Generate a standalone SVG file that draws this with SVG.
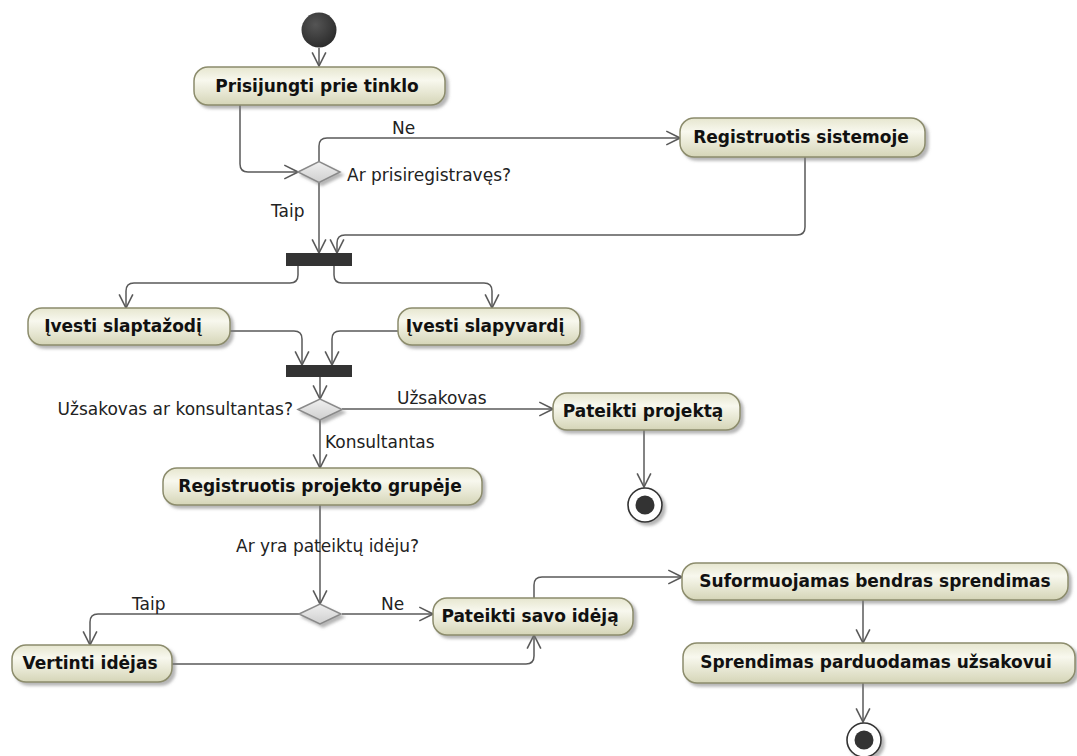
<svg xmlns="http://www.w3.org/2000/svg" width="1077" height="756" viewBox="0 0 1077 756">
<defs>
  <linearGradient id="nodeFill" x1="0" y1="0" x2="0" y2="1">
    <stop offset="0" stop-color="#e6e6cf"/>
    <stop offset="0.35" stop-color="#f8f8ee"/>
    <stop offset="1" stop-color="#d5d5b7"/>
  </linearGradient>
  <linearGradient id="diamondFill" x1="0" y1="0" x2="0" y2="1">
    <stop offset="0" stop-color="#f0f0f0"/>
    <stop offset="1" stop-color="#cfcfcf"/>
  </linearGradient>
  <radialGradient id="startFill" cx="0.4" cy="0.35" r="0.7">
    <stop offset="0" stop-color="#555555"/>
    <stop offset="1" stop-color="#2a2a2a"/>
  </radialGradient>
  <filter id="shadow" x="-10%" y="-20%" width="130%" height="160%">
    <feDropShadow dx="3" dy="3" stdDeviation="1.5" flood-color="#7a7a7a" flood-opacity="0.55"/>
  </filter>
  <marker id="arrow" markerUnits="userSpaceOnUse" markerWidth="16" markerHeight="16" viewBox="0 0 14 14" refX="13" refY="7" orient="auto">
    <path d="M1,1 L13,7 L1,13" fill="none" stroke="#5a5a5a" stroke-width="1.4"/>
  </marker>
</defs>
<style>
  .node rect { fill: url(#nodeFill); stroke: #8c8c6c; stroke-width: 1.5; filter: url(#shadow); }
  .node text { font-family: "DejaVu Sans", "Noto Sans", sans-serif; font-weight: bold; font-size: 17px; fill: #111111; text-anchor: middle; }
  .decision polygon { fill: url(#diamondFill); stroke: #8a8a8a; stroke-width: 1.5; filter: url(#shadow); }
  .bar rect { fill: #333333; }
  .conn path { fill: none; stroke: #5a5a5a; stroke-width: 1.5; marker-end: url(#arrow); }
  .lbl { font-family: "DejaVu Sans", "Noto Sans", sans-serif; font-size: 17px; fill: #222222; }
</style>
<rect width="1077" height="756" fill="#ffffff"/>

<g id="connectors" class="conn">
  <path d="M319,48 L319,66"/>
  <path d="M240,105 L240,164 Q240,172 248,172 L298,172"/>
  <path d="M319,162 L319,146 Q319,138 327,138 L680,138"/>
  <path d="M319,183 L319,253"/>
  <path d="M805,157 L805,227 Q805,235 797,235 L345,235 Q337,235 337,243 L337,253"/>
  <path d="M298,266 L298,275 Q298,283 290,283 L134,283 Q126,283 126,291 L126,308"/>
  <path d="M334,266 L334,275 Q334,283 342,283 L484,283 Q492,283 492,291 L492,308"/>
  <path d="M230,331 L294,331 Q302,331 302,339 L302,365"/>
  <path d="M398,331 L340,331 Q332,331 332,339 L332,365"/>
  <path d="M320,377 L320,399"/>
  <path d="M342,409 L553,409"/>
  <path d="M320,420 L320,468"/>
  <path d="M644,430 L644,487"/>
  <path d="M320,505 L320,604"/>
  <path d="M299,614 L98,614 Q90,614 90,622 L90,645"/>
  <path d="M342,614 L433,614"/>
  <path d="M172,664 L526,664 Q534,664 534,656 L534,635"/>
  <path d="M534,598 L534,585 Q534,577 542,577 L682,577"/>
  <path d="M863,600 L863,643"/>
  <path d="M863,683 L863,722"/>
</g>

<g id="edge-labels">
  <text class="lbl" x="392" y="134">Ne</text>
  <text class="lbl" x="347" y="181">Ar prisiregistravęs?</text>
  <text class="lbl" x="271" y="217">Taip</text>
  <text class="lbl" x="293" y="415" text-anchor="end">Užsakovas ar konsultantas?</text>
  <text class="lbl" x="397" y="404">Užsakovas</text>
  <text class="lbl" x="325" y="448">Konsultantas</text>
  <text class="lbl" x="236" y="552">Ar yra pateiktų idėju?</text>
  <text class="lbl" x="132" y="610">Taip</text>
  <text class="lbl" x="381" y="610">Ne</text>
</g>

<g id="start">
  <circle cx="319" cy="30" r="17.5" fill="url(#startFill)"/>
</g>

<g id="n-prisijungti" class="node">
  <rect x="194" y="67" width="251" height="38" rx="14"/>
  <text x="317" y="92">Prisijungti prie tinklo</text>
</g>

<g id="d-registravesi" class="decision">
  <polygon points="298,172 319,161.5 340,172 319,182.5"/>
</g>

<g id="n-registruotis-sistemoje" class="node">
  <rect x="680" y="118" width="245" height="39" rx="14"/>
  <text x="801" y="143">Registruotis sistemoje</text>
</g>

<g id="fork1" class="bar">
  <rect x="286" y="253" width="66" height="13"/>
</g>

<g id="n-slaptazodi" class="node">
  <rect x="28" y="308" width="202" height="37" rx="14"/>
  <text x="123" y="332">Įvesti slaptažodį</text>
</g>

<g id="n-slapyvardi" class="node">
  <rect x="398" y="308" width="182" height="37" rx="14"/>
  <text x="485" y="332">Įvesti slapyvardį</text>
</g>

<g id="join1" class="bar">
  <rect x="286" y="365" width="66" height="12"/>
</g>

<g id="d-uzsakovas" class="decision">
  <polygon points="298,409.5 320,399 342,409.5 320,420"/>
</g>

<g id="n-pateikti-projekta" class="node">
  <rect x="553" y="393" width="187" height="37" rx="14"/>
  <text x="643" y="417">Pateikti projektą</text>
</g>

<g id="final1">
  <circle cx="645" cy="505" r="17" fill="#ffffff" stroke="#333333" stroke-width="1.6" filter="url(#shadow)"/>
  <circle cx="645" cy="505" r="9.5" fill="#333333"/>
</g>

<g id="n-registruotis-grupeje" class="node">
  <rect x="163" y="468" width="319" height="37" rx="14"/>
  <text x="320" y="492">Registruotis projekto grupėje</text>
</g>

<g id="d-idejos" class="decision">
  <polygon points="299,614 320,604 341,614 320,624"/>
</g>

<g id="n-vertinti" class="node">
  <rect x="12" y="645" width="160" height="37" rx="14"/>
  <text x="90" y="669">Vertinti idėjas</text>
</g>

<g id="n-pateikti-savo" class="node">
  <rect x="433" y="598" width="200" height="37" rx="14"/>
  <text x="530" y="622">Pateikti savo idėją</text>
</g>

<g id="n-suformuojamas" class="node">
  <rect x="682" y="563" width="386" height="37" rx="14"/>
  <text x="875" y="587">Suformuojamas bendras sprendimas</text>
</g>

<g id="n-sprendimas" class="node">
  <rect x="683" y="643" width="392" height="40" rx="14"/>
  <text x="876" y="668">Sprendimas parduodamas užsakovui</text>
</g>

<g id="final2">
  <circle cx="864" cy="740" r="17" fill="#ffffff" stroke="#333333" stroke-width="1.6" filter="url(#shadow)"/>
  <circle cx="864" cy="740" r="9.5" fill="#333333"/>
</g>
</svg>
